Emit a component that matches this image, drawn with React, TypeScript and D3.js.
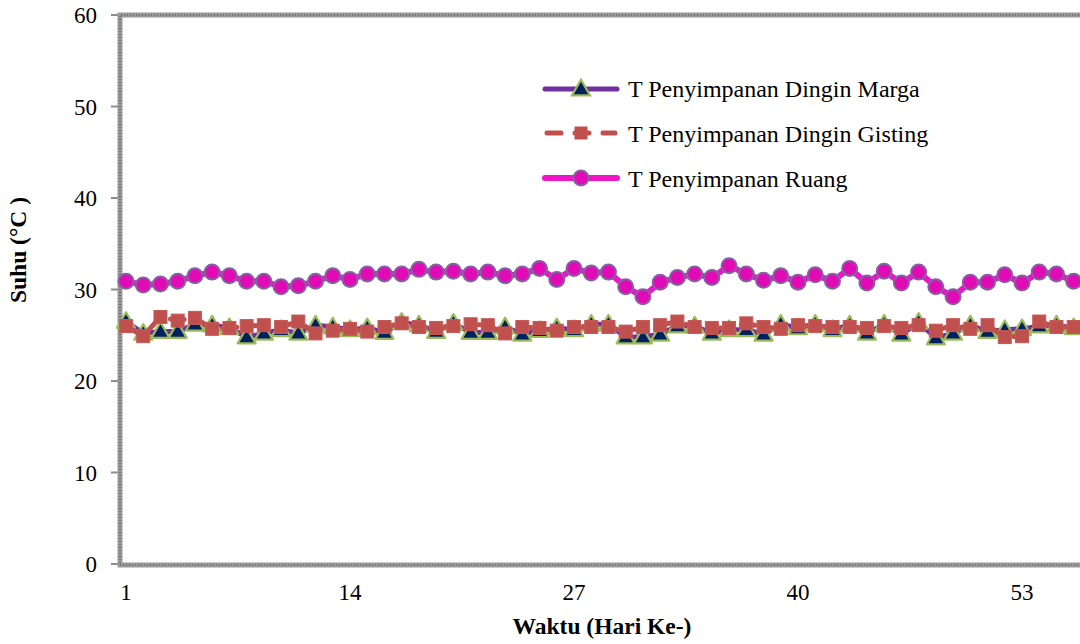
import React from "react";
import * as d3 from "d3";

// Daily storage temperatures (°C), days 1..56
const days: number[] = Array.from({ length: 56 }, (_, i) => i + 1);

const tMarga: number[] = [
  26.5, 25.2, 25.4, 25.4, 26.2, 26.1, 25.8, 24.8, 25.2, 25.6,
  25.2, 26.1, 25.9, 25.6, 25.8, 25.3, 26.4, 26.1, 25.4, 26.3,
  25.3, 25.3, 25.9, 25.1, 25.5, 25.8, 25.6, 26.2, 26.2, 24.8,
  24.8, 25.1, 26.0, 26.0, 25.2, 25.6, 25.6, 25.1, 26.2, 25.8,
  26.2, 25.6, 26.1, 25.2, 26.2, 25.1, 26.4, 24.7, 25.2, 26.1,
  25.4, 25.6, 25.7, 26.0, 26.1, 25.8,
];

const tGisting: number[] = [
  26.0, 24.9, 27.0, 26.6, 26.9, 25.7, 25.8, 26.0, 26.1, 25.9,
  26.5, 25.2, 25.5, 25.7, 25.4, 25.9, 26.3, 25.9, 25.8, 26.0,
  26.2, 26.1, 25.2, 25.9, 25.8, 25.5, 25.9, 25.9, 25.9, 25.4,
  25.9, 26.1, 26.5, 25.9, 25.8, 25.8, 26.3, 25.9, 25.7, 26.1,
  26.0, 25.9, 25.9, 25.8, 26.0, 25.8, 26.1, 25.5, 26.1, 25.7,
  26.1, 24.8, 24.9, 26.5, 25.9, 25.9,
];

const tRuang: number[] = [
  30.9, 30.5, 30.6, 30.9, 31.5, 31.9, 31.5, 30.9, 30.9, 30.3,
  30.4, 30.9, 31.5, 31.1, 31.7, 31.7, 31.7, 32.2, 31.9, 32.0,
  31.7, 31.9, 31.5, 31.7, 32.3, 31.1, 32.3, 31.8, 31.9, 30.3,
  29.2, 30.8, 31.3, 31.7, 31.3, 32.6, 31.7, 31.0, 31.5, 30.8,
  31.6, 30.9, 32.3, 30.7, 32.0, 30.7, 31.9, 30.3, 29.2, 30.8,
  30.8, 31.6, 30.7, 31.9, 31.7, 30.9,
];

const yTicks: number[] = [0, 10, 20, 30, 40, 50, 60];
const xTickDays: number[] = [1, 14, 27, 40, 53];

const seriesNames: string[] = [
  "T Penyimpanan Dingin Marga",
  "T Penyimpanan Dingin Gisting",
  "T Penyimpanan Ruang",
];

const FONT = "Liberation Serif, Times New Roman, serif";
const textStyle: React.CSSProperties = { fontFamily: FONT };

export default function App() {
  const W = 1080;
  const H = 644;
  const x = d3.scaleLinear().domain([1, 53]).range([126, 1022]);
  const y = d3.scaleLinear().domain([0, 60]).range([564, 15]);

  const frameLeft = 120;
  const frameTop = y(60);
  const frameBottom = y(0) + 1;
  const frameRight = 1100;

  const line = d3
    .line<number>()
    .x((_, i) => x(days[i]))
    .y((v) => y(v));

  const tri = (cx: number, cy: number, s: number) =>
    `M${cx},${cy - s * 0.62} L${cx + s * 0.6},${cy + s * 0.42} L${cx - s * 0.6},${cy + s * 0.42} Z`;

  const purple = "#7030A0";
  const red = "#C0504D";
  const magenta = "#EE14C8";

  const legendY = [89, 133, 178];
  const lx0 = 545;
  const lx1 = 617;
  const lmx = 581;

  const framePath = `M${frameRight},${frameTop} L${frameLeft},${frameTop} L${frameLeft},${frameBottom} L${frameRight},${frameBottom}`;

  return (
    <div style={{ position: "fixed", left: 0, top: 0 }}>
      <svg width={W} height={H} style={{ display: "block", background: "#fff" }}>
        {/* y tick marks and labels */}
        {yTicks.map((t) => (
          <g key={t}>
            <line x1={111} x2={frameLeft} y1={y(t)} y2={y(t)} stroke="#8c8c8c" strokeWidth={2} />
            <text x={97} y={y(t)} dy="0.35em" textAnchor="end" style={textStyle} fontSize={23} fill="#000">
              {t}
            </text>
          </g>
        ))}
        {/* x tick labels */}
        {xTickDays.map((d) => (
          <text key={d} x={x(d)} y={600} textAnchor="middle" style={textStyle} fontSize={23} fill="#000">
            {d}
          </text>
        ))}

        {/* plot area frame */}
        <path d={framePath} fill="none" stroke="#9a9a9a" strokeWidth={5} />
        <path d={framePath} fill="none" stroke="#4a4a4a" strokeWidth={1.2} strokeDasharray="1 2" />

        {/* Marga */}
        <path d={line(tMarga) || ""} fill="none" stroke={purple} strokeWidth={5} strokeLinejoin="round" />
        {tMarga.map((v, i) => (
          <path
            key={"m" + i}
            d={tri(x(days[i]), y(v), 15)}
            fill="#002060"
            stroke="#9BBB59"
            strokeWidth={2.2}
            strokeLinejoin="round"
          />
        ))}

        {/* Gisting */}
        <path
          d={line(tGisting) || ""}
          fill="none"
          stroke={red}
          strokeWidth={5}
          strokeDasharray="14 14"
          strokeLinecap="round"
        />
        {tGisting.map((v, i) => (
          <rect
            key={"g" + i}
            x={x(days[i]) - 6.5}
            y={y(v) - 6.5}
            width={13}
            height={13}
            fill={red}
            stroke="#c65a57"
            strokeWidth={1}
          />
        ))}

        {/* Ruang */}
        <path d={line(tRuang) || ""} fill="none" stroke={magenta} strokeWidth={6} strokeLinejoin="round" />
        {tRuang.map((v, i) => (
          <circle key={"r" + i} cx={x(days[i])} cy={y(v)} r={7.5} fill="#E20AB4" stroke="#8064A2" strokeWidth={2} />
        ))}

        {/* legend */}
        <g>
          <line x1={lx0} x2={lx1} y1={legendY[0]} y2={legendY[0]} stroke={purple} strokeWidth={5} strokeLinecap="round" />
          <path d={tri(lmx, legendY[0], 15)} fill="#002060" stroke="#9BBB59" strokeWidth={2.2} />
          <text x={628} y={legendY[0] + 8} style={textStyle} fontSize={24}>
            {seriesNames[0]}
          </text>

          <line
            x1={lx0 + 2}
            x2={lx1 - 2}
            y1={legendY[1]}
            y2={legendY[1]}
            stroke={red}
            strokeWidth={5}
            strokeDasharray="14 14"
            strokeLinecap="round"
          />
          <rect x={lmx - 6.5} y={legendY[1] - 6.5} width={13} height={13} fill={red} />
          <text x={628} y={legendY[1] + 8.5} style={textStyle} fontSize={24}>
            {seriesNames[1]}
          </text>

          <line x1={lx0} x2={lx1} y1={legendY[2]} y2={legendY[2]} stroke={magenta} strokeWidth={6} strokeLinecap="round" />
          <circle cx={lmx} cy={legendY[2]} r={7.5} fill="#E20AB4" stroke="#8064A2" strokeWidth={2} />
          <text x={628} y={legendY[2] + 9} style={textStyle} fontSize={24}>
            {seriesNames[2]}
          </text>
        </g>

        {/* axis titles */}
        <text x={602} y={634} textAnchor="middle" style={textStyle} fontSize={23.5} fontWeight="bold">
          Waktu (Hari Ke-)
        </text>
        <text
          transform="translate(26,250) rotate(-90)"
          textAnchor="middle"
          style={textStyle}
          fontSize={23.5}
          fontWeight="bold"
        >
          Suhu (°C )
        </text>
      </svg>
    </div>
  );
}
